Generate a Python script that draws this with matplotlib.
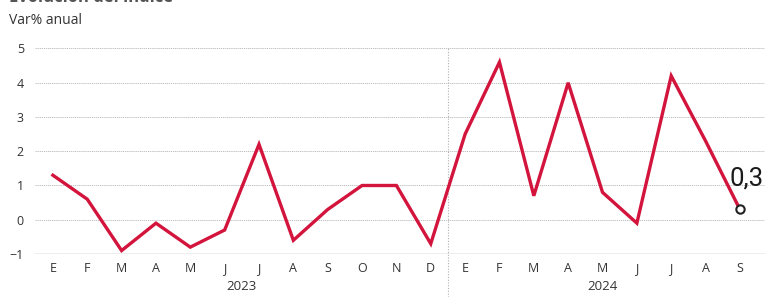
import matplotlib

matplotlib.use("Agg")
import matplotlib.pyplot as plt  # noqa: E402
import matplotlib.transforms as mtransforms  # noqa: E402

months = ["E", "F", "M", "A", "M", "J", "J", "A", "S", "O", "N", "D",
          "E", "F", "M", "A", "M", "J", "J", "A", "S"]
values = [1.3, 0.6, -0.9, -0.1, -0.8, -0.3, 2.2, -0.6, 0.3, 1.0, 1.0, -0.7,
          2.5, 4.6, 0.7, 4.0, 0.8, -0.1, 4.2, 2.3, 0.3]
years = ["2023", "2024"]
year_span = [(0, 11), (12, 20)]
yticks = [-1, 0, 1, 2, 3, 4, 5]
last_label = "0,3"

RED = "#d3143c"
TXT = "#333333"

plt.rcParams["font.family"] = ["Open Sans", "DejaVu Sans"]

fig = plt.figure(figsize=(7.65, 2.97), dpi=100)
ax = fig.add_axes([0.0458, 0.1448, 0.9542, 0.715])

x = list(range(len(values)))
ax.set_xlim(-0.52, 20.73)
ax.set_ylim(-1, 5.2)

for v in yticks[1:]:
    ax.axhline(v, color="#b5b5b5", lw=0.6, ls=(0, (1.5, 1)), zorder=1)
ax.axhline(-1, color="#a8a8a8", lw=1.0, zorder=1)

# separator between years, runs down through the month/year labels
blend = mtransforms.blended_transform_factory(ax.transData, fig.transFigure)
ax.plot([11.5, 11.5], [0.0, 0.842], transform=blend, color="#b0b0b0",
        lw=0.8, ls=(0, (1, 1.5)), clip_on=False, zorder=1)

ax.plot(x, values, color=RED, lw=2.4, solid_joinstyle="miter", zorder=3)
ax.plot(x[-1], values[-1], marker="o", ms=6, mfc="white", mec="#222222",
        mew=1.5, zorder=4)

ax.text(x[-1] - 0.3, values[-1] + 0.55, last_label, fontsize=18.5,
        family="Roboto", color="#1a1a1a",
        ha="left", va="bottom", clip_on=False)

for s in ax.spines.values():
    s.set_visible(False)
ax.set_yticks(yticks)
ax.set_yticklabels([str(v).replace("-", "\u2212") for v in yticks])
ax.set_xticks(x)
ax.set_xticklabels(months)
ax.tick_params(length=0, labelsize=9, colors=TXT, pad=6)
ax.tick_params(axis="y", pad=8)

for year, (a, b) in zip(years, year_span):
    ax.text((a + b) / 2, 0.012, year, transform=blend, fontsize=9.5,
            color=TXT, ha="center", va="bottom")

# chart title, mostly cut off at the top in the reference
fig.text(0.012, 0.993, "Evolución del índice", fontsize=12, weight="bold",
         color="#555555", ha="left", va="baseline")
fig.text(0.012, 0.905, "Var% anual", fontsize=10, color=TXT, ha="left",
         va="bottom")

fig.savefig("out.png", dpi=100)
